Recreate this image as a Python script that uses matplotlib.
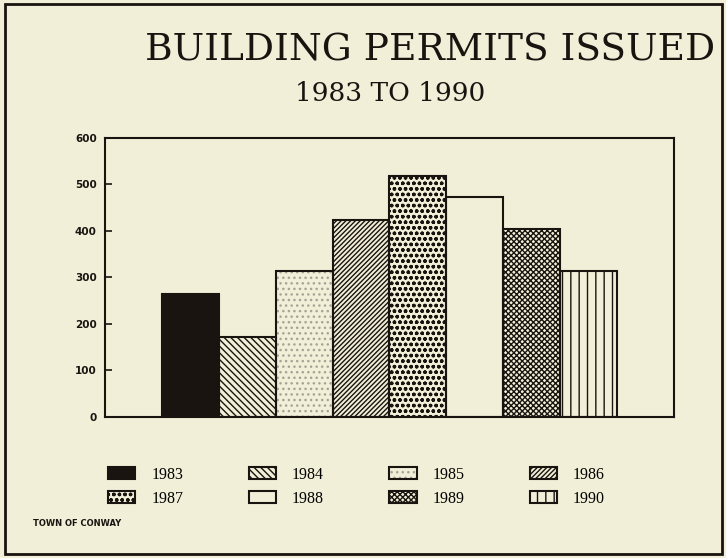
import matplotlib.pyplot as plt
from matplotlib.patches import Patch, Rectangle
import numpy as np

# data
years = ['1983', '1984', '1985', '1986', '1987', '1988', '1989', '1990']
permits = [264, 173, 314, 424, 519, 474, 405, 314]
yticks = [0, 100, 200, 300, 400, 500, 600]

# fill style per year: (facecolor, hatch, hatch colour)
hatches = ['', '\\' * 5, '...', '/' * 7, 'ooo', '', 'x' * 6, '||']
faces = ['#1a1410', 'none', 'none', 'none', 'none', 'none', 'none', 'none']
hcols = ['#1a1410', '#1a1410', '#a8a294', '#1a1410', '#1a1410', '#1a1410', '#1a1410', '#1a1410']

bg = '#f2efd8'
ink = '#1a1410'

plt.rcParams['hatch.linewidth'] = 1.0
fig = plt.figure(figsize=(7.26, 5.58), dpi=100, facecolor=bg)
ax = fig.add_axes([0.1446, 0.2527, 0.7837, 0.5])
ax.set_facecolor(bg)

x = np.arange(1, len(years) + 1)
handles = []
for i, yr in enumerate(years):
    ax.bar(x[i], permits[i], width=1.0, align='edge', color=faces[i],
           hatch=hatches[i], edgecolor=hcols[i], linewidth=0)
    ax.bar(x[i], permits[i], width=1.0, align='edge', fill=False,
           edgecolor=ink, linewidth=1.5)
    fillp = Patch(facecolor=faces[i], hatch=hatches[i], edgecolor=hcols[i], linewidth=0)
    edgep = Patch(fill=False, edgecolor=ink, linewidth=1.5)
    handles.append((fillp, edgep))

ax.set_xlim(0, 10)
ax.set_ylim(0, 600)
ax.set_xticks([])
ax.set_yticks(yticks)
ax.set_yticklabels([str(v) for v in yticks], fontsize=7.5, fontweight='bold',
                   family='DejaVu Sans', color=ink)
ax.tick_params(axis='y', direction='in', length=5, width=1.2, color=ink, pad=6)
for s in ax.spines.values():
    s.set_color(ink)
    s.set_linewidth(1.5)

fig.text(0.592, 0.910, 'BUILDING PERMITS ISSUED', ha='center', va='center',
         fontsize=27, family='DejaVu Serif', color=ink)
fig.text(0.537, 0.833, '1983 TO 1990', ha='center', va='center',
         fontsize=19, family='DejaVu Serif', color=ink)
fig.text(0.045, 0.062, 'TOWN OF CONWAY', ha='left', va='center',
         fontsize=6, fontweight='bold', family='DejaVu Sans', color=ink)

# legend fills column-first, so reorder to read row-wise
order = [0, 4, 1, 5, 2, 6, 3, 7]
leg = fig.legend([handles[k] for k in order], [years[k] for k in order],
                 ncol=4, loc='upper left', bbox_to_anchor=(0.138, 0.178),
                 frameon=False, handlelength=1.7,
                 handleheight=0.75, handletextpad=1.0, columnspacing=4.1,
                 labelspacing=0.5, borderpad=0,
                 prop={'family': 'Liberation Serif', 'size': 11.5})

# outer frame round the whole picture
fig.patches.append(Rectangle((0.007, 0.007), 0.987, 0.986, transform=fig.transFigure,
                             fill=False, edgecolor=ink, linewidth=2))

fig.savefig('out.png', dpi=100, facecolor=bg)
